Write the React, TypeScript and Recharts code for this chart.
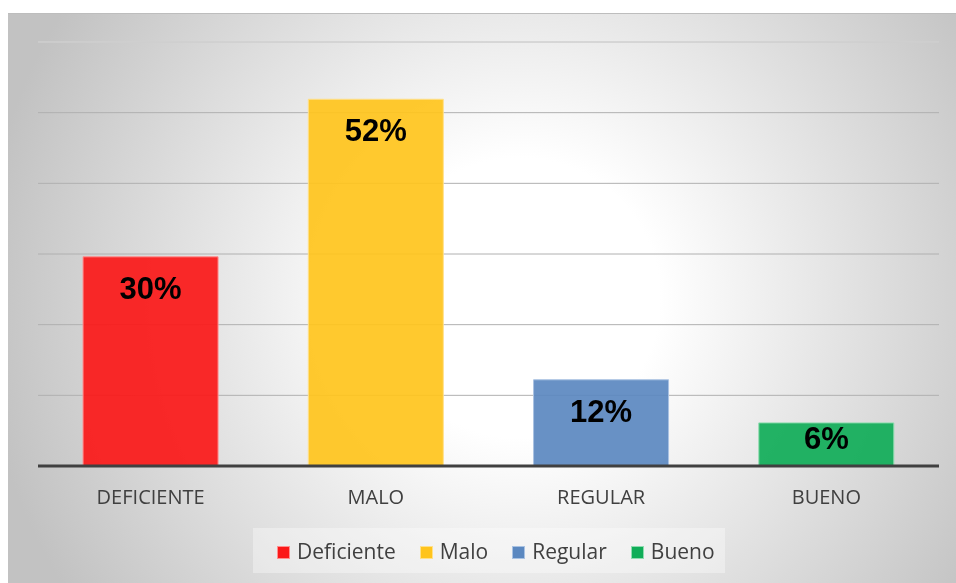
import React from 'react';
import { BarChart, Bar, XAxis, YAxis, CartesianGrid, Cell, LabelList, Legend, ReferenceLine } from 'recharts';

const categories = ['DEFICIENTE', 'MALO', 'REGULAR', 'BUENO'];
const legendNames = ['Deficiente', 'Malo', 'Regular', 'Bueno'];
// bar heights; labels show them rounded
const percentages = [29.6, 51.9, 12.2, 6.1];
const yTicks = [0, 10, 20, 30, 40, 50, 60];

const fills = ['#fb1818', '#ffc41c', '#5b88c0', '#10ad58'];
const edges = ['#ff8f8f', '#ffe08a', '#a9c2e2', '#8fdcb0'];

const data = categories.map((name, i) => ({ name, value: percentages[i] }));

const renderValue = (props: any) => {
  const { x, y, width, height, value } = props;
  const base = y + Math.min(42, height - 17);
  return (
    <text
      x={x + width / 2}
      y={base}
      textAnchor="middle"
      fill="#000"
      style={{ fontFamily: '"Liberation Sans", Arial, sans-serif', fontWeight: 700, fontSize: 31 }}
    >
      {Math.round(value)}%
    </text>
  );
};

const renderLegend = () => (
  <div
    style={{
      display: 'flex',
      alignItems: 'center',
      gap: 24,
      paddingLeft: 24,
      boxSizing: 'border-box',
      height: 45,
      background: 'rgba(255,255,255,0.35)',
      fontFamily: '"Open Sans", sans-serif',
      fontSize: 21,
      color: '#404040',
    }}
  >
    {legendNames.map((n, i) => (
      <div key={n} style={{ display: 'flex', alignItems: 'center', gap: 7 }}>
        <span
          style={{
            display: 'inline-block',
            width: 11,
            height: 11,
            background: fills[i],
            border: `1px solid ${edges[i]}`,
            marginTop: 3,
          }}
        />
        <span>{n}</span>
      </div>
    ))}
  </div>
);

export default function App() {
  return (
    <div
      style={{
        position: 'fixed',
        left: 8,
        top: 13,
        width: 948,
        height: 570,
        background: 'radial-gradient(circle at 54% 50%, #ffffff 0px, #ffffff 140px, #c2c2c2 540px)',
        boxShadow: 'inset 0 1px 0 #bdbdbd',
      }}
    >
      <BarChart
        width={948}
        height={570}
        data={data}
        margin={{ top: 29, right: 17, left: 30, bottom: 87 }}
        barCategoryGap="20%"
      >
        <CartesianGrid vertical={false} stroke="#b0b0b0" />
        <ReferenceLine y={60} stroke="#dedede" />
        <YAxis hide domain={[0, 60]} ticks={yTicks} />
        <XAxis
          dataKey="name"
          height={30}
          axisLine={{ stroke: '#404040', strokeWidth: 3 }}
          tickLine={false}
          tickSize={0}
          tickMargin={24}
          tick={{ fill: '#404040', fontSize: 20, fontFamily: '"Open Sans", sans-serif' }}
        />
        <Legend
          layout="horizontal"
          verticalAlign="middle"
          align="center"
          content={renderLegend}
          wrapperStyle={{ top: 515, left: 245, width: 472, height: 45 }}
        />
        <Bar dataKey="value" isAnimationActive={false} fillOpacity={0.92}>
          {data.map((d, i) => (
            <Cell key={d.name} fill={fills[i]} stroke={edges[i]} strokeWidth={1} />
          ))}
          <LabelList dataKey="value" content={renderValue} />
        </Bar>
      </BarChart>
    </div>
  );
}
